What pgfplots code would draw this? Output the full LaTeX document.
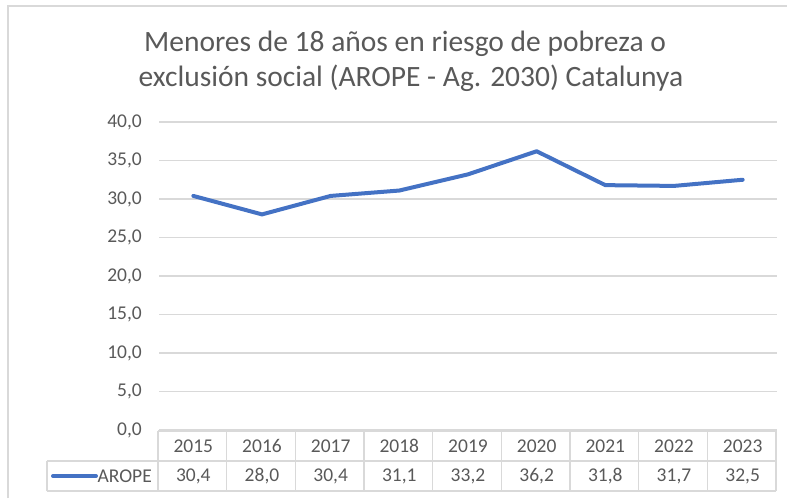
\documentclass[border=0pt]{standalone}
\usepackage{pgfplots}
\pgfplotsset{compat=1.18}
\usepackage{fontspec}
\setmainfont{Carlito}
\definecolor{txtgray}{HTML}{595959}
\definecolor{gridgray}{HTML}{D9D9D9}
\definecolor{lineblue}{HTML}{4472C4}
\tikzset{cell/.style={text=txtgray, font=\fontsize{19.5}{23}\selectfont}}
\begin{document}
\begin{tikzpicture}[x=1pt,y=1pt]
\useasboundingbox (0,0) rectangle (787,498);
% chart border
\draw[gridgray, line width=1.5pt] (8,0) -- (8,492) -- (787,492);
% title
\node[anchor=base, text=txtgray, font=\fontsize{29.5}{35}\selectfont] at (405,446) {Menores de 18 años en riesgo de pobreza o};
\node[anchor=base, text=txtgray, font=\fontsize{29.5}{35}\selectfont] at (411,411) {exclusión social (AROPE - Ag. 2030) Catalunya};
\begin{axis}[
  at={(159pt,68pt)}, anchor=south west,
  width=618pt, height=308pt, scale only axis,
  xmin=-0.5, xmax=8.5, ymin=0, ymax=40,
  ytick={0,5,...,40},
  xtick={0,...,8},
  xticklabels={},
  axis line style={draw=none},
  major tick length=0pt,
  ymajorgrids, grid style={draw=gridgray, line width=1.3pt},
  tick label style={text=txtgray, font=\fontsize{19.5}{23}\selectfont},
  yticklabel style={anchor=east, inner sep=0pt, xshift=-17pt},
  /pgf/number format/.cd, fixed, fixed zerofill, precision=1, use comma, assume math mode=true,
  /pgfplots/.cd,
  clip=false,
]
\addplot[lineblue, line width=4pt, line join=round, line cap=round] coordinates {
  (0,30.4) (1,28.0) (2,30.4) (3,31.1) (4,33.2) (5,36.2) (6,31.8) (7,31.7) (8,32.5)
};
% year row
\node[cell] at (axis cs:0,0) [yshift=-16pt] {2015};
\node[cell] at (axis cs:1,0) [yshift=-16pt] {2016};
\node[cell] at (axis cs:2,0) [yshift=-16pt] {2017};
\node[cell] at (axis cs:3,0) [yshift=-16pt] {2018};
\node[cell] at (axis cs:4,0) [yshift=-16pt] {2019};
\node[cell] at (axis cs:5,0) [yshift=-16pt] {2020};
\node[cell] at (axis cs:6,0) [yshift=-16pt] {2021};
\node[cell] at (axis cs:7,0) [yshift=-16pt] {2022};
\node[cell] at (axis cs:8,0) [yshift=-16pt] {2023};
% value row
\node[cell] at (axis cs:0,0) [yshift=-46pt] {30,4};
\node[cell] at (axis cs:1,0) [yshift=-46pt] {28,0};
\node[cell] at (axis cs:2,0) [yshift=-46pt] {30,4};
\node[cell] at (axis cs:3,0) [yshift=-46pt] {31,1};
\node[cell] at (axis cs:4,0) [yshift=-46pt] {33,2};
\node[cell] at (axis cs:5,0) [yshift=-46pt] {36,2};
\node[cell] at (axis cs:6,0) [yshift=-46pt] {31,8};
\node[cell] at (axis cs:7,0) [yshift=-46pt] {31,7};
\node[cell] at (axis cs:8,0) [yshift=-46pt] {32,5};
\end{axis}
% data table grid
\draw[gridgray, line width=1.5pt] (158,67) -- (776,67);
\draw[gridgray, line width=1.5pt] (47,37) -- (776,37);
\draw[gridgray, line width=1.5pt] (47,7) -- (776,7);
\draw[gridgray, line width=1.5pt] (47,7) -- (47,37);
\foreach \k in {0,...,9} {
  \draw[gridgray, line width=1.5pt] ({158+\k*68.67},7) -- ({158+\k*68.67},67);
}
% legend key
\draw[lineblue, line width=4pt, line cap=round] (53,22) -- (96,22);
\node[anchor=east, inner sep=0pt, cell] at (152,22) {AROPE};
\end{tikzpicture}
\end{document}
